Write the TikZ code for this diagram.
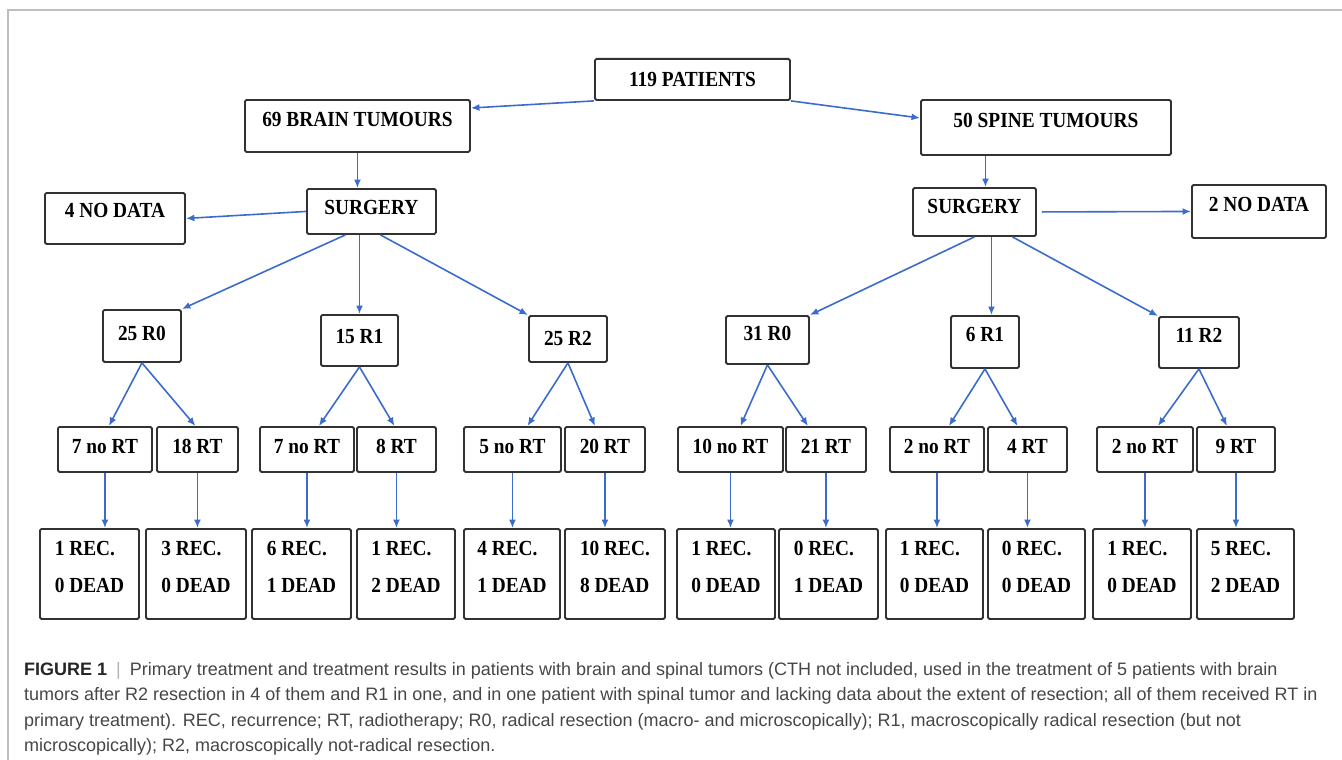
\documentclass[tikz,border=0pt]{standalone}
\usepackage{fontspec}
\setmainfont{Liberation Serif}[FakeStretch=0.9]
\newfontfamily\capfont{Liberation Sans}
\usetikzlibrary{arrows.meta, positioning, calc}

\definecolor{linkblue}{RGB}{59,108,204}
\definecolor{boxgray}{RGB}{50,50,50}
\definecolor{capgray}{RGB}{70,70,70}
\definecolor{framegray}{RGB}{190,190,190}

\tikzset{
	box/.style={draw=boxgray, line width=1.9pt, rounded corners=1.5pt, anchor=north west,
		inner xsep=2pt, inner ysep=0pt, font=\fontsize{21.5}{24}\selectfont\bfseries},
	link/.style={draw=linkblue, line width=1.6pt, -{Latex[length=8.5pt,width=7pt]}},
	capline/.style={anchor=base west, inner sep=0pt, text=capgray, font=\capfont\fontsize{18}{22}\selectfont}
}
\newcommand\recdead[2]{\vbox{\baselineskip=37pt\hbox{#1 REC.}\hbox{#2 DEAD}}}

\begin{document}
\begin{tikzpicture}[x=1pt, y=-1pt]
	\useasboundingbox (0,0) rectangle (1342,760);
	\draw[framegray, line width=1.2pt] (1342,10) -- (8,10) -- (8,760);

	% top levels
	\node[box, minimum width=195pt, text height=28pt, text depth=13pt] (pat) at (594,58) {119 PATIENTS};
	\node[box, minimum width=225pt, text height=27pt, text depth=25pt] (brain) at (244,99) {69 BRAIN TUMOURS};
	\node[box, minimum width=250pt, text height=28pt, text depth=27pt] (spine) at (920,99) {50 SPINE TUMOURS};
	\node[box, minimum width=129pt, text height=26pt, text depth=19pt] (bsurg) at (306,188) {SURGERY};
	\node[box, minimum width=140pt, text height=25pt, text depth=26pt] (bnone) at (44,192) {4 NO DATA};
	\node[box, minimum width=123pt, text height=26pt, text depth=22pt] (ssurg) at (912,187) {SURGERY};
	\node[box, minimum width=134pt, text height=27pt, text depth=26pt] (snone) at (1191,184) {2 NO DATA};

	% resection
	\node[box, minimum width=78pt, text height=31pt, text depth=21pt] (r0a) at (102,309) {25 R0};
	\node[box, minimum width=77pt, text height=29pt, text depth=22pt] (r1a) at (320,314) {15 R1};
	\node[box, minimum width=78pt, text height=30pt, text depth=16pt] (r2a) at (528,315) {25 R2};
	\node[box, minimum width=83pt, text height=25pt, text depth=23pt] (r0b) at (725,315) {31 R0};
	\node[box, minimum width=68pt, text height=26pt, text depth=26pt] (r1b) at (950,315) {6 R1};
	\node[box, minimum width=80pt, text height=26pt, text depth=25pt] (r2b) at (1158,316) {11 R2};

	% radiotherapy
	\foreach \n/\xa/\xb/\txt in {rt1/57/151/7 no RT, rt2/156/237/18 RT, rt3/259/353/7 no RT, rt4/356/435/8 RT,
			rt5/463/560/5 no RT, rt6/564/644/20 RT, rt7/677/782/10 no RT, rt8/785/865/21 RT,
			rt9/889/983/2 no RT, rt10/987/1066/4 RT, rt11/1096/1192/2 no RT, rt12/1196/1274/9 RT}
		\node[box, minimum width=\xb-\xa, text height=27pt, text depth=18pt] (\n) at (\xa,426) {\txt};

	% outcome
	\foreach \n/\xa/\xb/\rec/\dead in {out1/39/138/1/0, out2/145/245/3/0, out3/251/350/6/1, out4/356/454/1/2,
			out5/463/559/4/1, out6/564/664/10/8, out7/676/774/1/0, out8/778/877/0/1,
			out9/885/982/1/0, out10/987/1084/0/0, out11/1092/1190/1/0, out12/1196/1293/5/2}
		\node[box, minimum width=\xb-\xa, text height=64pt, text depth=26pt] (\n) at (\xa,528) {\recdead{\rec}{\dead}};

	% arrows
	\draw[link] (pat.south west) -- ($(brain.north east)+(0,9)$);
	\draw[link] (pat.south east) -- ($(spine.north west)+(0,19)$);
	\draw[link] (brain.south) -- (brain.south |- bsurg.north);
	\draw[link] (bsurg.west) -- (bnone.east);
	\draw[link] ($(bsurg.south)+(-26,0)$) -- (r0a.north east);
	\draw[link] (r1a.north |- bsurg.south) -- (r1a.north);
	\draw[link] ($(bsurg.south)+(9,0)$) -- (r2a.north west);

	\coordinate (sdrop) at ($(ssurg.north)+(11,0)$);
	\coordinate (smid) at ($(ssurg.south)+(17,0)$);
	\draw[link] (sdrop |- spine.south) -- (sdrop);
	\draw[link] ([xshift=5pt]ssurg.east) -- (snone.west);
	\draw[link] (ssurg.south) -- (r0b.north east);
	\draw[link] (smid) -- (smid |- r1b.north);
	\draw[link] ($(ssurg.south)+(38,0)$) -- (r2b.north west);

	\foreach \up/\lt/\dl/\rt/\dr in {r0a/rt1/4/rt2/-2, r1a/rt3/12/rt4/-2, r2a/rt5/15/rt6/-10,
			r0b/rt7/10/rt8/-18, r1b/rt9/12/rt10/-10, r2b/rt11/13/rt12/-9} {
		\draw[link] (\up.south) -- ($(\lt.north)+(\dl,0)$);
		\draw[link] (\up.south) -- ($(\rt.north)+(\dr,0)$);
	}
	\foreach \i in {1,...,12}
		\draw[link] (rt\i.south) -- (rt\i.south |- out\i.north);

	% caption
	\node[capline] (cap1) at (24,675) {{\bfseries\color{black!85}FIGURE 1}\enspace{\color{gray!60}|}\enspace Primary treatment and treatment results in patients with brain and spinal tumors (CTH not included, used in the treatment of 5 patients with brain};
	\node[capline] (cap2) at (24,700.5) {tumors after R2 resection in 4 of them and R1 in one, and in one patient with spinal tumor and lacking data about the extent of resection; all of them received RT in};
	\node[capline] (cap3) at (24,726) {primary treatment). REC, recurrence; RT, radiotherapy; R0, radical resection (macro- and microscopically); R1, macroscopically radical resection (but not};
	\node[capline] (cap4) at (24,751.5) {microscopically); R2, macroscopically not-radical resection.};
\end{tikzpicture}
\end{document}
